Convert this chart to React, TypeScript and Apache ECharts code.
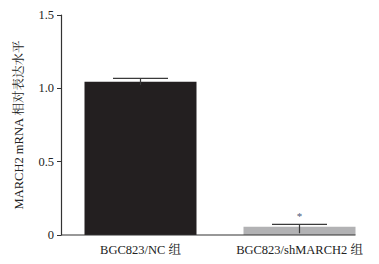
import React, { useEffect, useRef } from "react";
import * as echarts from "echarts";

const categories = ["BGC823/NC 组", "BGC823/shMARCH2 组"];
const means = [1.045, 0.057];
const errHigh = [1.068, 0.073];
const errLow = [1.022, 0.012];
const significance = ["", "*"];
const yTicks = [0, 0.5, 1.0, 1.5];
const barColors = ["#231f20", "#b2b2b4"];

const FONT = "'Liberation Serif', 'Times New Roman', 'Noto Serif CJK SC', 'Noto Sans CJK SC', serif";

export default function App() {
  const ref = useRef<HTMLDivElement>(null);
  useEffect(() => {
    if (!ref.current) return;
    const chart = echarts.init(ref.current, null, { renderer: "svg" });
    chart.setOption({
      animation: false,
      backgroundColor: "#ffffff",
      grid: { left: 61, right: -11, top: 15, bottom: 29 },
      xAxis: {
        type: "category",
        data: categories,
        boundaryGap: true,
        axisLine: { show: false },
        axisTick: { show: false },
        axisLabel: { color: "#222", fontSize: 12.5, fontFamily: FONT, margin: 9, interval: 0, hideOverlap: false },
      },
      yAxis: {
        type: "value",
        min: 0,
        max: yTicks[yTicks.length - 1],
        interval: 0.5,
        name: "MARCH2 mRNA 相对表达水平",
        nameLocation: "middle",
        nameGap: 36,
        nameTextStyle: { color: "#222", fontSize: 12.5, fontFamily: FONT },
        axisLine: { show: true, lineStyle: { color: "#333", width: 1.2 } },
        axisTick: { show: true, length: 4, lineStyle: { color: "#333" } },
        splitLine: { show: false },
        axisLabel: {
          color: "#222",
          fontSize: 12.5,
          fontFamily: FONT,
          margin: 7,
          formatter: (v: number) => (v === 0 ? "0" : v.toFixed(1)),
        },
      },
      series: [
        {
          type: "bar",
          barWidth: 112,
          data: means.map((v, i) => ({ value: v, itemStyle: { color: barColors[i] } })),
        },
        {
          type: "custom",
          data: categories.map((_, i) => [i, errHigh[i], errLow[i]]),
          renderItem: (params: any, api: any) => {
            const idx = api.value(0);
            const top = api.coord([idx, api.value(1)]);
            const bot = api.coord([idx, api.value(2)]);
            const half = 27.5;
            const children: any[] = [
              {
                type: "line",
                shape: { x1: top[0], y1: top[1], x2: bot[0], y2: bot[1] },
                style: { stroke: "#3a3a3a", lineWidth: 1.2 },
              },
              {
                type: "line",
                shape: { x1: top[0] - half, y1: top[1], x2: top[0] + half, y2: top[1] },
                style: { stroke: "#3a3a3a", lineWidth: 1.2 },
              },
            ];
            const sig = significance[idx];
            if (sig) {
              children.push({
                type: "text",
                x: top[0],
                y: top[1] - 3,
                style: {
                  text: sig,
                  fill: "#4a5878",
                  font: "11px " + FONT,
                  textAlign: "center",
                  textVerticalAlign: "bottom",
                },
              });
            }
            return { type: "group", children };
          },
          z: 5,
        },
      ],
    });
    const grid = (chart as any).getModel().getComponent("grid").coordinateSystem.getRect();
    const x0 = grid.x;
    const xEnd = chart.convertToPixel({ xAxisIndex: 0 }, 1) + 56;
    const y0 = chart.convertToPixel({ yAxisIndex: 0 }, 0);
    chart.setOption({
      graphic: [
        {
          type: "line",
          shape: { x1: x0, y1: y0, x2: xEnd, y2: y0 },
          style: { stroke: "#333", lineWidth: 1.2 },
          z: 10,
        },
      ],
    });
    return () => chart.dispose();
  }, []);
  return (
    <div
      ref={ref}
      style={{ position: "fixed", left: 0, top: 0, width: 379, height: 264 }}
    />
  );
}
